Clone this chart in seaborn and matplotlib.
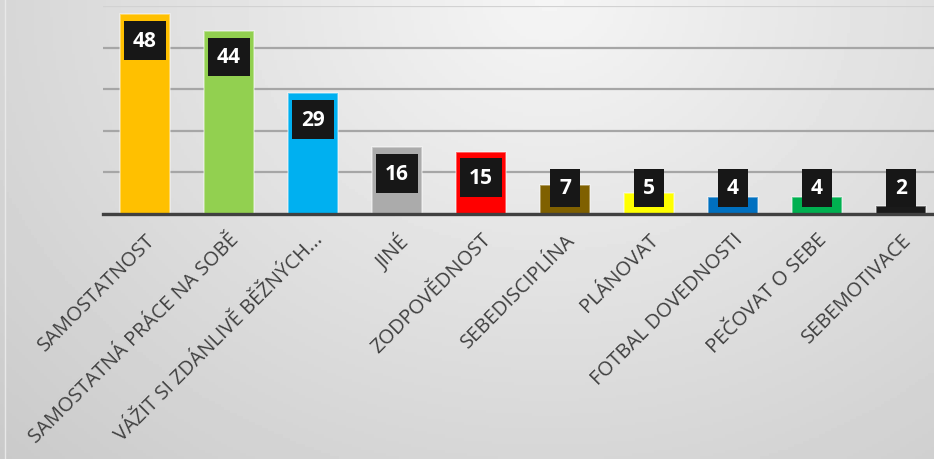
import matplotlib
matplotlib.use("Agg")
import matplotlib.pyplot as plt
import numpy as np
import pandas as pd
import seaborn as sns

categories = ["SAMOSTATNOST", "SAMOSTATNÁ PRÁCE NA SOBĚ", "VÁŽIT SI ZDÁNLIVĚ BĚŽNÝCH...",
              "JINÉ", "ZODPOVĚDNOST", "SEBEDISCIPLÍNA", "PLÁNOVAT",
              "FOTBAL DOVEDNOSTI", "PEČOVAT O SEBE", "SEBEMOTIVACE"]
values = [48, 44, 29, 16, 15, 7, 5, 4, 4, 2]
colors = ["#FFC000", "#92D050", "#00B0F0", "#ABABAB", "#FF0000",
          "#7F6000", "#FFFF00", "#0070C0", "#00B050", "#1A1A1A"]
y_ticks = [0, 10, 20, 30, 40, 50]

sns.set_theme(style="white")
plt.rcParams['font.family'] = ['Open Sans', 'DejaVu Sans']

fig = plt.figure(figsize=(9.34, 4.6), dpi=100)

# background gradient, light at top middle, darker towards the corners
bg = fig.add_axes([0, 0, 1, 1], zorder=-10)
gx, gy = np.meshgrid(np.linspace(0, 934, 300), np.linspace(0, 460, 150))
r = np.sqrt(((gx - 550) / 600) ** 2 + (gy / 500) ** 2)
shade = 0.96 - 0.13 * r
bg.imshow(shade, cmap="gray", vmin=0, vmax=1, aspect="auto",
          extent=[0, 1, 0, 1], origin="upper")
bg.axvline(5 / 934, color="#e8e8e8", lw=1)
bg.set_xlim(0, 1)
bg.set_ylim(0, 1)
bg.axis("off")

ax = fig.add_axes([103 / 934, 1 - 215 / 460, 840 / 934, 208 / 460])
ax.patch.set_alpha(0)

df = pd.DataFrame({"Kategorie": categories, "Počet": values})
sns.barplot(data=df, x="Kategorie", y="Počet", hue="Kategorie",
            palette=colors, legend=False, width=0.6, ax=ax, saturation=1,
            edgecolor=(1, 1, 1, 0.45), linewidth=1.2, zorder=3)

ax.set_ylim(0, 50)
ax.set_xlim(-0.5, len(categories) - 0.5)
ax.set_yticks(y_ticks)
ax.set_yticklabels([])
ax.tick_params(axis="y", length=0)
ax.yaxis.grid(True, color="#a6a6a6", lw=1.6, zorder=0)
ax.set_axisbelow(True)
gl = ax.get_ygridlines()
gl[-1].set_color("#d2d2d2")
ax.set_xlabel("")
ax.set_ylabel("")

for s in ["left", "right", "top"]:
    ax.spines[s].set_visible(False)
ax.spines["bottom"].set_color("#404040")
ax.spines["bottom"].set_linewidth(2.4)
ax.spines["bottom"].set_zorder(5)

ax.set_xticks(range(len(categories)))
ax.set_xticklabels(categories, rotation=45, ha="right", va="top",
                   rotation_mode="anchor", fontsize=14.5, color="#404040")
ax.tick_params(axis="x", length=0, pad=11)

# value boxes
for i, v in enumerate(values):
    yc = max(v - 6.25, 6.25)
    ax.text(i, yc, str(v), ha="center", va="center", color="white",
            fontsize=15, fontweight="bold", zorder=6,
            bbox=dict(boxstyle="square,pad=0.42", fc="#171717", ec="none"))

fig.savefig("out.png", dpi=100)
